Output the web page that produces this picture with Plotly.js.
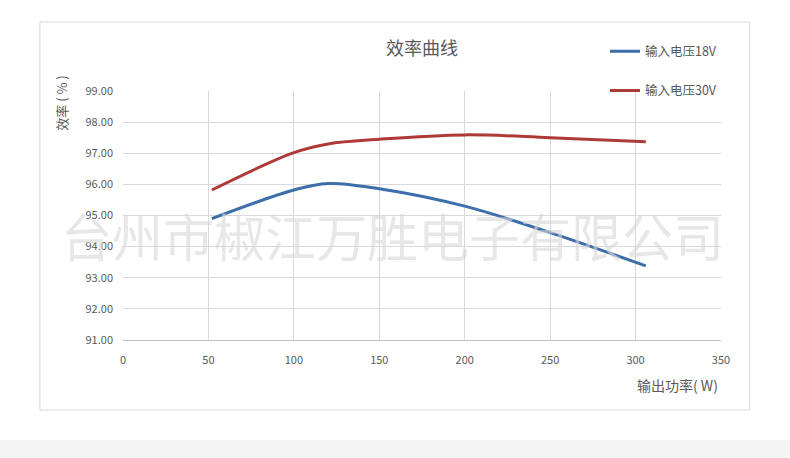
<!DOCTYPE html>
<html><head><meta charset="utf-8">
<script src="https://cdn.plot.ly/plotly-3.0.1.min.js"></script>
<style>html,body{margin:0;padding:0;background:#fff;}#chart{width:790px;height:458px;}</style>
</head><body><div id="chart"></div>
<script>
const power = [52, 100, 120, 150, 200, 250, 306];
const eff18V = [94.9, 95.82, 96.03, 95.86, 95.3, 94.45, 93.38];
const eff30V = [95.82, 97.02, 97.3, 97.45, 97.59, 97.5, 97.37];
const seriesNames = ['输入电压18V', '输入电压30V'];
const chartTitle = '效率曲线';
const xTitle = '输出功率( W)';
const yTitle = '效率 ( % )';
const watermark = '台州市椒江万胜电子有限公司';

const font = "'Noto Sans CJK SC', 'Open Sans', sans-serif";
const traces = [
  {x: power, y: eff18V, name: seriesNames[0], type: 'scatter', mode: 'lines',
   line: {color: '#3d6daa', width: 3, shape: 'spline', smoothing: 1}, legendgroup: 'a'},
  {x: power, y: eff30V, name: seriesNames[1], type: 'scatter', mode: 'lines',
   line: {color: '#ad3a37', width: 3, shape: 'spline', smoothing: 1}, legendgroup: 'b'}
];
const layout = {
  width: 790, height: 458,
  margin: {l: 123, r: 69, t: 91, b: 118},
  paper_bgcolor: '#fff', plot_bgcolor: '#fff',
  font: {family: font, color: '#595959', size: 11},
  title: {text: chartTitle, x: 0.5, xanchor: 'center', y: 0.893, yanchor: 'middle',
          xref: 'paper', font: {size: 18, color: '#595959', family: font}},
  xaxis: {range: [0, 350], dtick: 50, showgrid: true, gridcolor: '#d9d9d9', gridwidth: 1,
          zeroline: false, showline: true, linecolor: '#bfbfbf', ticks: '', fixedrange: true,
          ticklabelstandoff: 10, tickfont: {size: 11, color: '#595959'}},
  yaxis: {range: [91, 99], dtick: 1, tickformat: '.2f', showgrid: true, gridcolor: '#d9d9d9',
          gridwidth: 1, zeroline: false, showline: false, ticks: '', fixedrange: true,
          ticklabelstandoff: 9, tickfont: {size: 11, color: '#595959'}},
  showlegend: true,
  legend: {x: 0.806, y: 1.218, xanchor: 'left', yanchor: 'top', bgcolor: 'rgba(0,0,0,0)',
           font: {size: 12.5, color: '#595959'}, tracegroupgap: 20, itemwidth: 30},
  annotations: [
    {text: xTitle, xref: 'paper', yref: 'paper', x: 0.998, y: -0.18, xanchor: 'right',
     yanchor: 'middle', showarrow: false, font: {size: 14, color: '#595959'}},
    {text: yTitle, xref: 'paper', yref: 'paper', x: -0.103, y: 1.075, xanchor: 'center',
     yanchor: 'top', textangle: -90, showarrow: false, font: {size: 13, color: '#595959'}},
    {text: watermark, xref: 'paper', yref: 'paper', x: 0.45, y: 0.42, xanchor: 'center',
     yanchor: 'middle', showarrow: false,
     font: {size: 51, color: 'rgba(215,215,215,0.6)', family: "'Noto Sans CJK SC', serif"}}
  ],
  shapes: [
    {type: 'rect', xref: 'paper', yref: 'paper', x0: -0.139, x1: 1.048, y0: -0.281, y1: 1.277,
     line: {color: '#d9d9d9', width: 1}, layer: 'below'},
    {type: 'rect', xref: 'paper', yref: 'paper', x0: -0.3, x1: 1.2, y0: -0.48, y1: -0.402,
     line: {width: 0}, fillcolor: '#f4f4f4', layer: 'below'}
  ]
};
Plotly.newPlot('chart', traces, layout, {displayModeBar: false, staticPlot: true});
</script></body></html>
